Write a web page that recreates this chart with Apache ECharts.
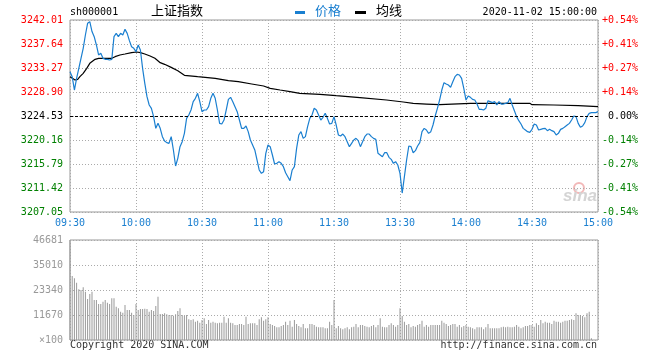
<!DOCTYPE html>
<html><head><meta charset="utf-8">
<script src="https://cdn.jsdelivr.net/npm/echarts@6/dist/echarts.min.js"></script>
<style>html,body{margin:0;padding:0;background:#fff}#c{width:660px;height:360px}</style>
</head><body><div id="c"></div>
<script>
const prevClose = 3224.53;
const step = 4.37;
const timeLabels = ['09:30','10:00','10:30','11:00','11:30','13:30','14:00','14:30','15:00'];
const price = [
3232.60,3231.69,3229.26,3231.39,3233.21,3235.03,3236.85,3239.28,3241.40,3241.70,
3239.90,3238.98,3237.46,3235.64,3235.94,3235.03,3234.85,3234.85,3234.73,3234.85,
3238.98,3239.58,3238.98,3239.58,3239.28,3240.31,3239.58,3238.25,3237.15,3236.85,
3236.24,3237.46,3236.55,3233.21,3230.48,3228.05,3226.53,3225.93,3224.41,3222.28,
3223.19,3222.28,3220.77,3219.98,3219.68,3219.55,3220.77,3218.34,3215.43,3216.82,
3218.95,3219.86,3221.37,3224.10,3224.71,3225.62,3227.14,3227.75,3228.66,3227.14,
3225.32,3225.62,3225.62,3226.23,3227.75,3228.66,3227.75,3225.62,3223.19,3223.07,
3223.80,3225.62,3227.56,3227.93,3227.14,3226.23,3225.32,3223.80,3222.28,3222.28,
3222.71,3221.68,3220.16,3219.25,3218.34,3216.52,3214.70,3214.09,3214.39,3217.73,
3219.25,3218.95,3217.43,3215.79,3215.91,3216.21,3215.91,3215.30,3214.21,3213.48,
3212.76,3214.70,3215.30,3218.64,3221.07,3221.68,3220.46,3220.77,3222.59,3224.10,
3224.71,3225.93,3225.62,3224.71,3223.80,3224.29,3225.02,3224.10,3223.07,3223.19,
3224.41,3222.89,3221.07,3220.89,3221.25,3220.77,3219.86,3218.95,3219.55,3220.16,
3220.46,3220.04,3218.95,3219.86,3220.77,3221.25,3221.25,3220.77,3220.46,3220.28,
3217.73,3217.43,3217.12,3217.85,3217.85,3217.00,3216.64,3215.91,3216.21,3215.61,
3214.09,3210.50,3213.48,3216.52,3219.07,3218.95,3217.85,3218.22,3219.07,3219.68,
3221.68,3222.28,3221.98,3221.37,3221.68,3222.89,3224.53,3225.93,3227.44,3229.26,
3230.60,3230.36,3230.17,3229.75,3230.78,3231.69,3232.12,3232.00,3231.39,3229.57,
3227.44,3228.17,3227.93,3227.56,3227.44,3226.71,3225.74,3225.74,3225.62,3225.93,
3227.32,3227.14,3226.96,3227.14,3226.53,3227.14,3226.71,3226.71,3226.84,3226.96,
3227.75,3226.53,3225.50,3224.41,3223.68,3223.07,3222.28,3221.98,3221.68,3221.56,
3222.10,3223.07,3222.89,3221.98,3222.10,3222.22,3222.28,3221.86,3222.10,3221.86,
3221.68,3221.07,3221.37,3222.10,3222.28,3222.59,3222.89,3223.19,3223.80,3224.53,
3224.41,3223.19,3222.47,3222.71,3223.32,3224.41,3225.02,3225.14,3225.14,3225.14,
3225.32
];
const avgMinutes = [0,2.3,3.5,4.5,6,7.6,9,11.4,13,19,20.5,22.7,25,28,30.3,32,34,36.4,38.6,41,43,46,49,52,58,66,72,76.5,82.6,88,91,95.5,100,104.5,113.6,121,131.8,143.9,151.5,156,162,168,182,191,209,210,220,231,240];
const avgPrice = [3231.69,3231.08,3231.21,3231.69,3232.30,3233.21,3234.12,3234.85,3235.03,3235.03,3235.33,3235.64,3235.82,3236.06,3236.18,3236.06,3235.82,3235.46,3235.03,3234.24,3233.94,3233.39,3232.78,3231.93,3231.69,3231.39,3230.96,3230.78,3230.36,3229.99,3229.57,3229.26,3228.96,3228.66,3228.48,3228.23,3227.87,3227.44,3227.08,3226.84,3226.71,3226.59,3226.84,3226.84,3226.84,3226.59,3226.53,3226.41,3226.23];
const volume = [
46681,29875,28786,26763,23651,23340,24585,22562,19139,21473,
22562,18672,18672,16805,16805,17894,18672,17427,16805,19450,
19450,15560,14782,13226,12759,16338,14004,14004,12759,11670,
16805,14004,14471,14471,14626,14471,13226,14004,13537,15871,
20228,12137,12137,12448,11981,11670,11670,11359,11981,13537,
14782,11670,11203,11670,9647,9336,9647,8558,9025,8091,
9336,10114,7469,9336,8091,8558,8091,7780,8091,8091,
10892,8091,10114,8091,7780,7002,7002,7469,7469,7002,
10892,7469,7780,7780,7780,7002,9647,10581,9025,9647,
10581,7469,7002,6535,5913,5913,6535,7002,8558,7002,
9025,6224,9336,7469,6535,5913,7469,5446,5446,7469,
7469,7002,6224,5913,5913,5913,5446,5446,8558,7002,
18672,5446,6535,5446,4979,5446,5913,4979,5913,6224,
7469,5913,7002,7002,6535,6224,5913,6535,7002,5913,
7002,10114,6224,5913,5913,7002,7780,7002,6224,7002,
14782,11203,8558,7002,7469,5913,6535,6224,7002,7469,
9025,6224,7002,6224,7002,7002,7002,7002,7002,9025,
8091,7469,6535,7002,7469,7469,6224,7002,5913,6535,
7002,6224,5913,5446,4979,5913,5913,5913,4979,5913,
7469,5446,5446,5446,5446,5446,5913,6224,5913,6224,
5913,5913,6224,7002,6224,5446,5913,6535,6535,7002,
7002,6224,7780,7002,9336,7780,8558,8091,8091,7469,
9025,8558,8558,8091,8558,9025,9025,9336,9647,9336,
12448,11670,11670,11203,10581,12448,13226,778,0,0,
0
];
const volMax = 46681;

const BLUE = '#1a7fd0';
const MONO = 'DejaVu Sans Mono';
const toStep = p => (p - prevClose) / step;
const priceData = price.map((p, i) => [i, toStep(p)]);
const avgData = avgMinutes.map((m, i) => [m, toStep(avgPrice[i])]);
const volData = volume.map((v, i) => [i, v]);
const sideColor = v => { v = Number(v); return v > 1e-9 ? '#ff0000' : (v < -1e-9 ? '#008000' : '#000000'); };
const dotted = { color: '#aaa', type: [1, 2], width: 1 };

const chart = echarts.init(document.getElementById('c'));
chart.setOption({
  animation: false,
  backgroundColor: '#fff',
  grid: [
    { left: 70, top: 20, width: 528, height: 192, show: true, borderColor: '#999', borderWidth: 1 },
    { left: 70, top: 240, width: 528, height: 100, show: true, borderColor: '#999', borderWidth: 1 }
  ],
  xAxis: [
    { type: 'value', gridIndex: 0, min: 0, max: 240, interval: 30,
      axisLine: { show: false }, axisTick: { show: false },
      axisLabel: { color: BLUE, fontFamily: MONO, fontSize: 10, margin: 6,
        formatter: v => timeLabels[Math.round(v / 30)] },
      splitLine: { show: true, lineStyle: dotted } },
    { type: 'value', gridIndex: 1, min: 0, max: 240, interval: 30,
      axisLine: { show: false }, axisTick: { show: false }, axisLabel: { show: false },
      splitLine: { show: true, lineStyle: dotted } }
  ],
  yAxis: [
    { type: 'value', gridIndex: 0, min: -4, max: 4, interval: 1, position: 'left',
      axisLine: { show: false }, axisTick: { show: false },
      axisLabel: { fontFamily: MONO, fontSize: 10, margin: 7, color: sideColor,
        formatter: v => (prevClose + v * step).toFixed(2) },
      splitLine: { show: true, lineStyle: dotted } },
    { type: 'value', gridIndex: 0, min: -4, max: 4, interval: 1, position: 'right',
      axisLine: { show: false }, axisTick: { show: false },
      axisLabel: { fontFamily: MONO, fontSize: 10, margin: 40, align: 'right', color: sideColor,
        formatter: v => v === 0 ? '0.00%' : (v > 0 ? '+' : '-') + Math.abs(v * step / prevClose * 100).toFixed(2) + '%' },
      splitLine: { show: false } },
    { type: 'value', gridIndex: 1, min: 0, max: volMax, interval: volMax / 4,
      axisLine: { show: false }, axisTick: { show: false },
      axisLabel: { fontFamily: MONO, fontSize: 10, margin: 7, color: '#999',
        formatter: v => v === 0 ? '×100' : String(Math.floor(v + 1e-6)) },
      splitLine: { show: true, lineStyle: dotted } }
  ],
  series: [
    { name: '均线', type: 'line', xAxisIndex: 0, yAxisIndex: 0, data: avgData,
      showSymbol: false, symbol: 'none', lineStyle: { color: '#000', width: 1.2 }, z: 3 },
    { name: '价格', type: 'line', xAxisIndex: 0, yAxisIndex: 0, data: priceData,
      showSymbol: false, symbol: 'none', lineStyle: { color: BLUE, width: 1.2 }, z: 4,
      markLine: { silent: true, symbol: 'none', label: { show: false },
        lineStyle: { color: '#000', type: [3, 2], width: 1 },
        data: [{ yAxis: 0 }] } },
    { name: '成交量', type: 'bar', xAxisIndex: 1, yAxisIndex: 2, data: volData,
      barWidth: 1, itemStyle: { color: '#999' } }
  ],
  graphic: [
    { type: 'text', left: 70, top: 7, style: { text: 'sh000001', font: '10px "DejaVu Sans Mono"', fill: '#000' } },
    { type: 'text', left: 151, top: 4, style: { text: '上证指数', font: '13px "Noto Sans CJK SC"', fill: '#000' } },
    { type: 'rect', shape: { x: 295, y: 11, width: 10, height: 3 }, style: { fill: BLUE } },
    { type: 'text', left: 315, top: 4, style: { text: '价格', font: '13px "Noto Sans CJK SC"', fill: BLUE } },
    { type: 'rect', shape: { x: 355, y: 11, width: 11, height: 3 }, style: { fill: '#000' } },
    { type: 'text', left: 376, top: 4, style: { text: '均线', font: '13px "Noto Sans CJK SC"', fill: '#000' } },
    { type: 'text', right: 63, top: 7, style: { text: '2020-11-02 15:00:00', font: '10px "DejaVu Sans Mono"', fill: '#000' } },
    { type: 'text', left: 70, top: 340, style: { text: 'Copyright 2020 SINA.COM', font: '10px "DejaVu Sans Mono"', fill: '#333' } },
    { type: 'text', right: 63, top: 340, style: { text: 'http://finance.sina.com.cn', font: '10px "DejaVu Sans Mono"', fill: '#333' } },
    { type: 'circle', shape: { cx: 579, cy: 188, r: 5 }, style: { fill: 'none', stroke: '#f2b8b8', lineWidth: 2 }, z: 0 },
    { type: 'text', left: 563, top: 188, z: 0, style: { text: 'sina', font: 'italic bold 17px "Liberation Sans"', fill: '#d4d4d4' } }
  ]
});
</script>
</body></html>
